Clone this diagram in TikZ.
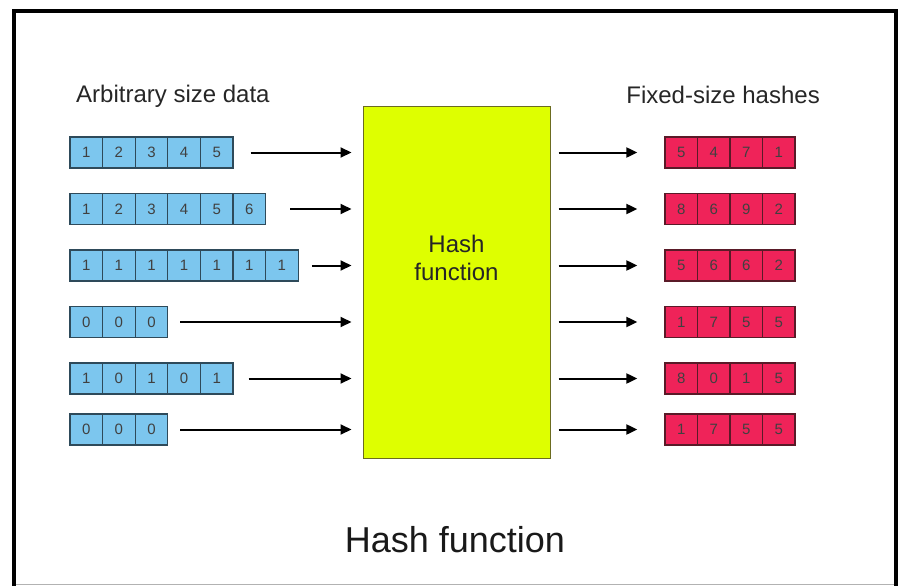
\documentclass[tikz,border=0pt]{standalone}
\usepackage{fontspec}
\setmainfont{Liberation Sans}
\usetikzlibrary{arrows.meta}
\definecolor{inblue}{HTML}{7CC6EE}
\definecolor{inedge}{HTML}{2E4A5A}
\definecolor{outred}{HTML}{EF2359}
\definecolor{outedge}{HTML}{5A1A28}
\definecolor{hashyel}{HTML}{DEFF00}
\definecolor{hashedge}{HTML}{6B6B20}
\begin{document}
\begin{tikzpicture}[x=1pt,y=-1pt,
  incell/.style={draw=inedge, line width=1.3pt, fill=inblue, minimum width=32.6pt,
    minimum height=31pt, inner sep=0pt, text=black!75,
    font=\fontsize{15}{15}\selectfont},
  outcell/.style={draw=outedge, line width=1.3pt, fill=outred, minimum width=32.5pt,
    minimum height=31pt, inner sep=0pt, text=black!75,
    font=\fontsize{15}{15}\selectfont},
  arr/.style={line width=2pt, -{Triangle[length=11pt,width=10pt]}},
  hashbox/.style={draw=hashedge, line width=1pt, fill=hashyel, minimum width=187pt,
    minimum height=352pt, inner sep=0pt},
  lbl/.style={inner sep=0pt, text=black!85, font=\fontsize{24}{24}\selectfont},
  hlbl/.style={inner sep=0pt, text=black!85, align=center,
    font=\fontsize{24}{28}\selectfont},
  ttl/.style={inner sep=0pt, text=black!90, font=\fontsize{36}{36}\selectfont}
]
\useasboundingbox (0,0) rectangle (902,586);
% frame
\draw[gray!60, line width=1pt] (14,584) -- (896,584);
\draw[line width=4pt] (14,590) -- (14,11) -- (896,11) -- (896,590);

% hash function box
\node[hashbox] (hash) at (456.5,282) {};
\node[hlbl] (hashlbl) at (456.5,258) {Hash\\function};

% labels
\node[lbl, anchor=west] (inlbl) at (76,96) {Arbitrary size data};
\node[lbl, anchor=east] (outlbl) at (820,95) {Fixed-size hashes};
\node[ttl] (title) at (455,540) {Hash function};

% input rows
\foreach \r/\y/\vals/\n/\g in {
  1/152.5/{1,2,3,4,5}/5/17,
  2/209/{1,2,3,4,5,6}/6/24,
  3/265.5/{1,1,1,1,1,1,1}/7/13,
  4/322/{0,0,0}/3/12,
  5/378.5/{1,0,1,0,1}/5/15,
  6/429.5/{0,0,0}/3/12} {
  \foreach \v [count=\c] in \vals {
    \node[incell] (in\r-\c) at (86.3+\c*32.6-32.6,\y) {\v};
  }
  \draw[arr, shorten <=\g pt, shorten >=11pt] (in\r-\n.east) -- (hash.west |- in\r-\n.east);
}

% output rows
\foreach \r/\y/\vals in {
  1/152.5/{5,4,7,1},
  2/209/{8,6,9,2},
  3/265.5/{5,6,6,2},
  4/322/{1,7,5,5},
  5/378.5/{8,0,1,5},
  6/429.5/{1,7,5,5}} {
  \foreach \v [count=\c] in \vals {
    \node[outcell] (out\r-\c) at (681.25+\c*32.5-32.5,\y) {\v};
  }
  \draw[arr, shorten <=8pt, shorten >=27pt] (hash.east |- out\r-1.west) -- (out\r-1.west);
}
\end{tikzpicture}
\end{document}
